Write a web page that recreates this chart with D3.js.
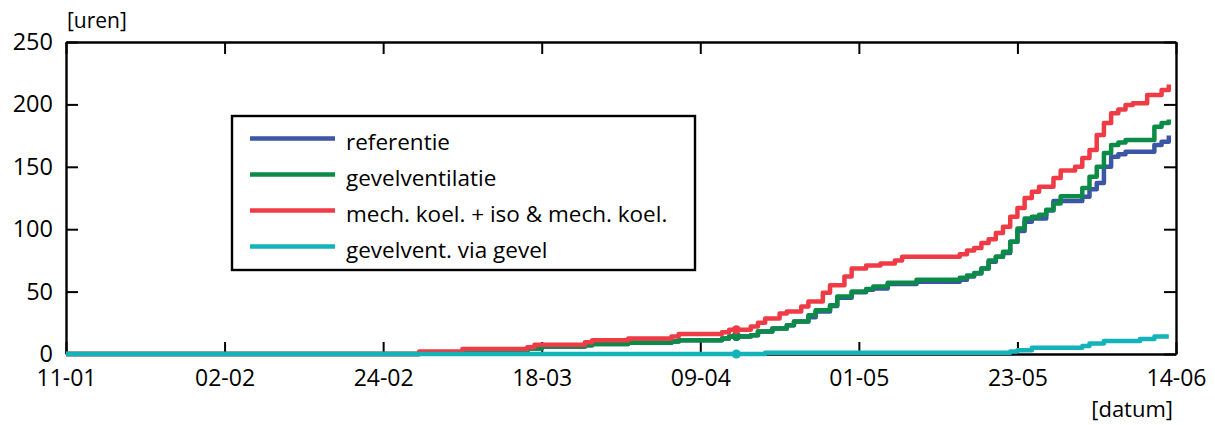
<!DOCTYPE html>
<html>
<head>
<meta charset="utf-8">
<script src="https://cdn.jsdelivr.net/npm/d3@7"></script>
<style>
  html, body { margin: 0; padding: 0; background: #fff; }
  svg { display: block; font-family: "Open Sans", "Noto Sans", sans-serif; }
</style>
</head>
<body>
<svg id="chart" width="1215" height="425"></svg>
<script>
// Cumulative hours above the comfort limit, per variant: [date (dd-mm), hours]
const referentie = [
  ["11-01", 0], ["01-03", 1], ["07-03", 2], ["16-03", 4.5], ["18-03", 6],
  ["24-03", 7], ["25-03", 8], ["30-03", 9], ["05-04", 10], ["06-04", 11],
  ["12-04", 12.5], ["13-04", 14], ["16-04", 15], ["17-04", 18], ["19-04", 20.5],
  ["21-04", 23], ["22-04", 26], ["24-04", 29.5], ["25-04", 34], ["27-04", 38.5],
  ["28-04", 45], ["30-04", 49.5], ["02-05", 51.5], ["03-05", 52.5], ["05-05", 56],
  ["09-05", 57.8], ["15-05", 59.5], ["16-05", 62], ["17-05", 64.5], ["18-05", 68.5],
  ["19-05", 74], ["20-05", 78], ["21-05", 81], ["22-05", 90], ["23-05", 98.5],
  ["24-05", 106], ["25-05", 108.5], ["27-05", 115], ["28-05", 122.5], ["01-06", 126],
  ["02-06", 132], ["03-06", 137], ["04-06", 150], ["05-06", 158], ["06-06", 160],
  ["07-06", 162], ["11-06", 167.5], ["12-06", 170], ["13-06", 175]
];

const gevelventilatie = [
  ["11-01", 0], ["01-03", 1], ["07-03", 2], ["16-03", 4.5], ["18-03", 6],
  ["24-03", 7], ["25-03", 8], ["30-03", 9], ["05-04", 10], ["06-04", 11],
  ["12-04", 12.5], ["13-04", 14], ["16-04", 15], ["17-04", 18], ["19-04", 20.5],
  ["21-04", 23], ["22-04", 26], ["24-04", 31], ["25-04", 35], ["27-04", 39],
  ["28-04", 46], ["30-04", 50], ["02-05", 52], ["03-05", 54], ["05-05", 57],
  ["09-05", 59.5], ["15-05", 61], ["16-05", 63], ["17-05", 65], ["18-05", 68.5],
  ["19-05", 75], ["20-05", 78], ["21-05", 82], ["22-05", 90], ["23-05", 100.5],
  ["24-05", 108.5], ["25-05", 110], ["26-05", 111.5], ["27-05", 115.5], ["28-05", 120.5],
  ["29-05", 126.5], ["01-06", 133], ["02-06", 142], ["03-06", 150], ["04-06", 161],
  ["05-06", 167.5], ["06-06", 169.5], ["07-06", 171.5], ["11-06", 182], ["12-06", 185],
  ["13-06", 188]
];

const mechKoel = [
  ["11-01", 0], ["01-03", 2], ["07-03", 4], ["16-03", 5.5], ["17-03", 7.5],
  ["24-03", 9.5], ["25-03", 11], ["30-03", 12.5], ["05-04", 14], ["06-04", 16],
  ["12-04", 17.5], ["13-04", 19.5], ["16-04", 22], ["17-04", 25], ["18-04", 28.5],
  ["20-04", 32.5], ["21-04", 34], ["23-04", 38], ["24-04", 42], ["26-04", 49],
  ["27-04", 55], ["29-04", 62], ["30-04", 68.5], ["02-05", 71], ["04-05", 72.5],
  ["06-05", 75], ["07-05", 78], ["15-05", 80], ["16-05", 83], ["17-05", 85],
  ["18-05", 89], ["19-05", 92], ["20-05", 97], ["21-05", 102], ["22-05", 110],
  ["23-05", 117], ["24-05", 125], ["25-05", 130], ["26-05", 134], ["28-05", 141],
  ["29-05", 147], ["31-05", 150], ["01-06", 157], ["02-06", 163.5], ["03-06", 175.5],
  ["04-06", 185], ["05-06", 193], ["06-06", 196], ["07-06", 199.5], ["08-06", 201],
  ["10-06", 207.5], ["12-06", 211.5], ["13-06", 216]
];

const gevelventViaGevel = [
  ["11-01", 0], ["18-04", 1], ["22-05", 2], ["23-05", 3], ["25-05", 5],
  ["01-06", 6.5], ["02-06", 8.5], ["04-06", 10.5], ["09-06", 12], ["11-06", 14],
  ["13-06", 14]
];

const seriesNames = [
  "referentie",
  "gevelventilatie",
  "mech. koel. + iso & mech. koel.",
  "gevelvent. via gevel"
];
const seriesColors = ["#3c55a5", "#0b8b47", "#ef3b45", "#14b3ba"];
const seriesData = [referentie, gevelventilatie, mechKoel, gevelventViaGevel];

const xTickLabels = ["11-01", "02-02", "24-02", "18-03", "09-04", "01-05", "23-05", "14-06"];
const yTickValues = [0, 50, 100, 150, 200, 250];
const markerDates = ["14-04"];

const parse = d3.utcParse("%d-%m");
const fmt = d3.utcFormat("%d-%m");

const svg = d3.select("#chart");
const m = { left: 66, right: 1176, top: 42, bottom: 354 };

const x = d3.scaleUtc()
  .domain([parse(xTickLabels[0]), parse(xTickLabels[xTickLabels.length - 1])])
  .range([m.left, m.right]);
const y = d3.scaleLinear().domain([0, 250]).range([m.bottom, m.top]);

const xTicks = xTickLabels.map(parse);
const tickLen = 12;

// Axes on all four sides with inward ticks
const axisG = svg.append("g").attr("class", "axes");
axisG.append("g")
  .attr("transform", `translate(0,${m.bottom})`)
  .call(d3.axisBottom(x).tickValues(xTicks).tickFormat(fmt)
    .tickSizeInner(-tickLen).tickSizeOuter(0).tickPadding(16))
  .call(g => g.selectAll("text").attr("font-size", 23).attr("fill", "#000")
    .attr("font-family", "Open Sans"));
axisG.append("g")
  .attr("transform", `translate(0,${m.top})`)
  .call(d3.axisTop(x).tickValues(xTicks).tickFormat("")
    .tickSizeInner(-tickLen).tickSizeOuter(0));
axisG.append("g")
  .attr("transform", `translate(${m.left},0)`)
  .call(d3.axisLeft(y).tickValues(yTickValues)
    .tickSizeInner(-tickLen).tickSizeOuter(0).tickPadding(13))
  .call(g => g.selectAll("text").attr("font-size", 23.5).attr("fill", "#000")
    .attr("font-family", "Open Sans"));
axisG.append("g")
  .attr("transform", `translate(${m.right},0)`)
  .call(d3.axisRight(y).tickValues(yTickValues).tickFormat("")
    .tickSizeInner(-tickLen).tickSizeOuter(0));
axisG.selectAll(".domain").attr("stroke", "#000").attr("stroke-width", 2.4);
axisG.selectAll(".tick line").attr("stroke", "#000").attr("stroke-width", 2);

// Axis titles
svg.append("text")
  .attr("x", m.left + 1).attr("y", 28)
  .attr("font-size", 21).attr("fill", "#000")
  .text("[uren]");
svg.append("text")
  .attr("x", 1173).attr("y", 417)
  .attr("text-anchor", "end")
  .attr("font-size", 22).attr("fill", "#000")
  .text("[datum]");

// Cumulative step curves
const line = d3.line()
  .x(d => x(parse(d[0])))
  .y(d => y(d[1]))
  .curve(d3.curveStepAfter);

const lines = svg.append("g").attr("class", "lines");
seriesData.forEach((data, i) => {
  lines.append("path")
    .datum(data)
    .attr("d", line)
    .attr("fill", "none")
    .attr("stroke", seriesColors[i])
    .attr("stroke-width", 4.5)
    .attr("stroke-linejoin", "round");
});

// Marker dots at the given dates, on each curve
const bis = d3.bisector(d => parse(d[0])).right;
const valueAt = (data, date) => data[Math.max(0, bis(data, date) - 1)][1];
markerDates.forEach(ds => {
  const dt = parse(ds);
  seriesData.forEach((data, i) => {
    lines.append("circle")
      .attr("cx", x(dt))
      .attr("cy", y(valueAt(data, dt)))
      .attr("r", 4.5)
      .attr("fill", seriesColors[i]);
  });
});

// Legend
const lg = svg.append("g").attr("class", "legend");
lg.append("rect")
  .attr("x", 232).attr("y", 116).attr("width", 463).attr("height", 154)
  .attr("fill", "#fff").attr("stroke", "#000").attr("stroke-width", 2.4);
seriesNames.forEach((name, i) => {
  const cy = 138.5 + i * 36;
  lg.append("line")
    .attr("x1", 250).attr("x2", 335).attr("y1", cy).attr("y2", cy)
    .attr("stroke", seriesColors[i]).attr("stroke-width", 4.5);
  lg.append("text")
    .attr("x", 346).attr("y", cy + 11)
    .attr("font-size", 22.5).attr("fill", "#000")
    .text(name);
});
</script>
</body>
</html>
